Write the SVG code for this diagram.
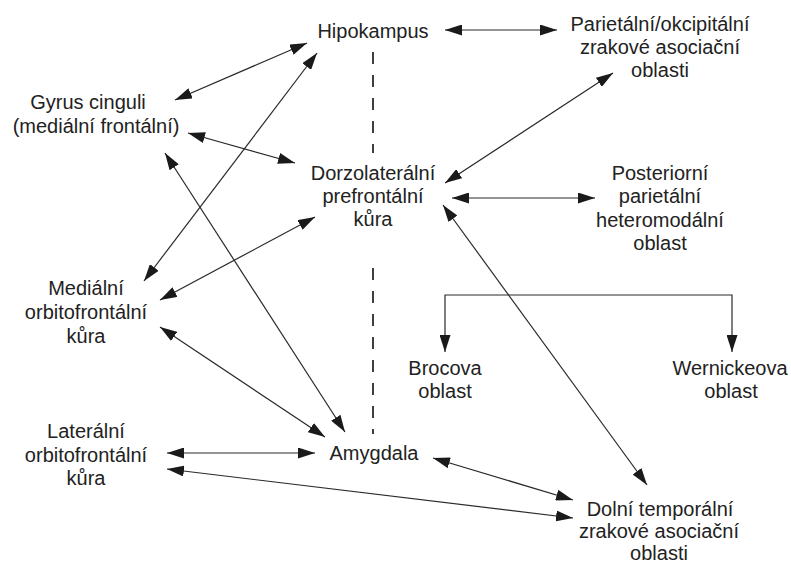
<svg xmlns="http://www.w3.org/2000/svg" width="791" height="565" viewBox="0 0 791 565">
<style>
text{font-family:"Liberation Sans",Arial,Helvetica,sans-serif;font-size:20px;fill:#222;text-anchor:middle}
.c{stroke:#2a2a2a;stroke-width:1.2;fill:none;marker-start:url(#ah);marker-end:url(#ah)}
.d{stroke:#2a2a2a;stroke-width:1.8;stroke-dasharray:12 11;fill:none}
</style>
<defs>
<marker id="ah" viewBox="0 0 17 11" refX="17" refY="5.5" markerWidth="17" markerHeight="11" markerUnits="userSpaceOnUse" orient="auto-start-reverse">
<path d="M0,0 L17,5.5 L0,11 z" fill="#1a1a1a"/>
</marker>
</defs>
<g id="divider">
<line class="d" x1="373" y1="52" x2="373" y2="153"/>
<line class="d" x1="373" y1="268" x2="373" y2="434"/>
</g>
<g id="connectors">
<line class="c" x1="445" y1="30" x2="557" y2="30"/>
<line class="c" x1="175" y1="100" x2="307" y2="43"/>
<line class="c" x1="317" y1="53" x2="144" y2="281"/>
<line class="c" x1="188" y1="133" x2="295" y2="163"/>
<line class="c" x1="165" y1="153" x2="345" y2="432"/>
<line class="c" x1="445" y1="183" x2="613" y2="73"/>
<line class="c" x1="452" y1="198" x2="595" y2="198"/>
<line class="c" x1="443" y1="205" x2="647" y2="485"/>
<line class="c" x1="315" y1="217" x2="160" y2="300"/>
<line class="c" x1="160" y1="327" x2="325" y2="437"/>
<line class="c" x1="167" y1="453" x2="315" y2="453"/>
<line class="c" x1="167" y1="469" x2="573" y2="518"/>
<line class="c" x1="433" y1="458" x2="573" y2="500"/>
<path class="c" d="M445,352 V295 H732 V352"/>
</g>
<g id="hipokampus"><text x="373" y="38">Hipokampus</text></g>
<g id="parietalni-okcipitalni">
<text x="660" y="31">Parietální/okcipitální</text>
<text x="660" y="54">zrakové asociační</text>
<text x="660" y="77">oblasti</text>
</g>
<g id="gyrus-cinguli">
<text x="88" y="109">Gyrus cinguli</text>
<text x="96" y="133">(mediální frontální)</text>
</g>
<g id="dorzolateralni">
<text x="373" y="180">Dorzolaterální</text>
<text x="373" y="203">prefrontální</text>
<text x="373" y="226">kůra</text>
</g>
<g id="posteriorni">
<text x="660" y="180">Posteriorní</text>
<text x="660" y="203">parietální</text>
<text x="660" y="227">heteromodální</text>
<text x="660" y="250">oblast</text>
</g>
<g id="medialni-orbitofrontalni">
<text x="86" y="295">Mediální</text>
<text x="86" y="319">orbitofrontální</text>
<text x="86" y="343">kůra</text>
</g>
<g id="brocova">
<text x="445" y="375">Brocova</text>
<text x="445" y="398">oblast</text>
</g>
<g id="wernickeova">
<text x="730" y="375">Wernickeova</text>
<text x="731" y="398">oblast</text>
</g>
<g id="lateralni-orbitofrontalni">
<text x="86" y="438">Laterální</text>
<text x="86" y="462">orbitofrontální</text>
<text x="86" y="485">kůra</text>
</g>
<g id="amygdala"><text x="374" y="460">Amygdala</text></g>
<g id="dolni-temporalni">
<text x="660" y="516">Dolní temporální</text>
<text x="659" y="538">zrakové asociační</text>
<text x="659" y="560">oblasti</text>
</g>
</svg>
